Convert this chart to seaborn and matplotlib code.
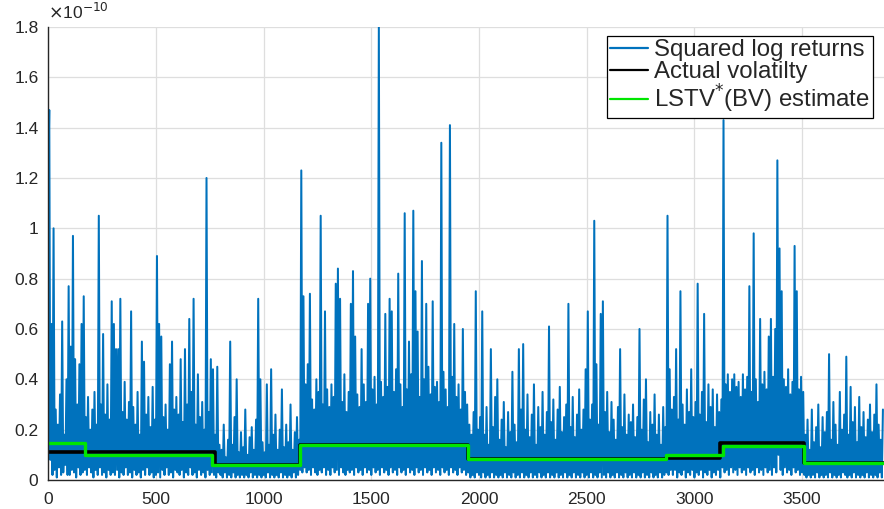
import numpy as np
import pandas as pd
import matplotlib
matplotlib.use("Agg")
import matplotlib.pyplot as plt
import seaborn as sns

# Squared log returns, in units of 1e-12, sampled every 5 observations (x = 0, 5, 10, ...)
sq_returns_e12 = [
    120, 147, 8, 62, 2, 100, 4, 28, 1, 22, 5, 34, 2, 63, 3, 18, 6, 40, 2, 77,
    2, 53, 4, 97, 3, 48, 1, 30, 5, 46, 2, 62, 3, 73, 4, 25, 2, 33, 5, 20,
    3, 28, 1, 35, 4, 22, 2, 105, 5, 30, 2, 58, 3, 26, 1, 38, 4, 24, 2, 71,
    3, 62, 2, 52, 4, 52, 1, 72, 3, 27, 2, 39, 5, 24, 2, 31, 3, 67, 1, 29,
    4, 22, 2, 35, 3, 18, 1, 55, 4, 47, 2, 26, 5, 33, 2, 21, 3, 37, 1, 24,
    2, 89, 3, 62, 1, 57, 4, 25, 2, 30, 5, 20, 2, 46, 3, 55, 1, 28, 4, 33,
    3, 26, 2, 48, 4, 23, 1, 52, 3, 30, 2, 64, 5, 35, 2, 72, 3, 22, 1, 42,
    4, 25, 2, 31, 3, 20, 1, 120, 4, 27, 2, 48, 3, 44, 2, 18, 1, 45, 3, 14,
    2, 12, 1, 22, 3, 9, 1, 16, 2, 55, 1, 14, 3, 25, 1, 40, 2, 11, 1, 19,
    2, 13, 1, 28, 2, 10, 1, 17, 3, 21, 1, 12, 2, 24, 1, 72, 2, 40, 1, 15,
    2, 11, 1, 38, 3, 14, 1, 44, 2, 18, 1, 26, 2, 12, 1, 20, 3, 36, 1, 13,
    2, 22, 1, 15, 2, 30, 1, 12, 3, 19, 1, 25, 2, 16, 4, 123, 3, 73, 5, 38,
    3, 46, 4, 74, 2, 32, 5, 28, 3, 40, 2, 35, 4, 105, 3, 30, 5, 67, 2, 36,
    4, 29, 2, 38, 5, 33, 3, 78, 4, 84, 2, 72, 5, 31, 3, 42, 2, 27, 4, 35,
    3, 70, 4, 83, 2, 57, 5, 34, 3, 29, 4, 52, 2, 38, 5, 31, 3, 70, 4, 80,
    2, 36, 5, 41, 3, 30, 4, 180, 2, 39, 5, 33, 3, 66, 4, 37, 2, 72, 5, 67,
    3, 35, 4, 44, 2, 82, 5, 38, 3, 29, 4, 106, 2, 36, 5, 55, 3, 42, 4, 107,
    2, 75, 5, 59, 3, 33, 4, 87, 2, 40, 5, 70, 3, 45, 4, 34, 2, 71, 5, 37,
    3, 39, 4, 31, 2, 134, 5, 43, 3, 36, 4, 29, 2, 141, 5, 41, 3, 62, 4, 33,
    2, 38, 5, 28, 3, 60, 4, 35, 2, 30, 3, 22, 1, 18, 2, 27, 1, 75, 3, 20,
    2, 25, 1, 67, 3, 18, 1, 29, 2, 14, 1, 52, 3, 21, 1, 33, 2, 40, 1, 16,
    2, 24, 1, 31, 3, 13, 1, 27, 2, 19, 1, 43, 3, 22, 1, 15, 2, 52, 1, 28,
    3, 54, 1, 20, 2, 34, 1, 17, 3, 26, 1, 38, 2, 14, 1, 29, 3, 21, 1, 35,
    2, 18, 1, 27, 3, 61, 1, 23, 2, 32, 1, 16, 3, 28, 1, 37, 2, 19, 1, 25,
    3, 30, 1, 70, 2, 21, 1, 33, 3, 17, 1, 26, 2, 36, 1, 20, 3, 28, 1, 44,
    2, 67, 1, 24, 3, 30, 1, 103, 2, 46, 1, 22, 3, 66, 1, 71, 2, 27, 1, 35,
    3, 19, 1, 31, 2, 24, 1, 16, 3, 29, 1, 52, 2, 21, 1, 34, 3, 18, 1, 26,
    2, 23, 1, 30, 3, 17, 1, 25, 2, 60, 1, 20, 3, 32, 1, 40, 2, 15, 1, 27,
    3, 22, 1, 34, 2, 18, 1, 26, 3, 14, 1, 29, 2, 21, 3, 105, 2, 44, 4, 28,
    2, 33, 4, 52, 1, 24, 3, 75, 2, 30, 4, 22, 1, 36, 3, 27, 2, 44, 4, 25,
    1, 31, 3, 78, 2, 26, 4, 35, 1, 66, 3, 23, 2, 38, 4, 29, 1, 36, 3, 21,
    2, 34, 4, 27, 1, 32, 5, 143, 3, 38, 4, 42, 2, 35, 5, 40, 3, 42, 4, 37,
    2, 39, 5, 33, 3, 42, 4, 36, 2, 41, 5, 77, 3, 35, 4, 98, 2, 40, 5, 31,
    3, 64, 4, 38, 2, 43, 5, 36, 3, 57, 4, 64, 2, 41, 5, 60, 3, 127, 10, 92,
    4, 75, 2, 40, 5, 37, 3, 44, 4, 34, 2, 39, 5, 93, 3, 75, 4, 36, 2, 41,
    3, 35, 2, 18, 1, 24, 2, 12, 1, 28, 2, 15, 1, 21, 3, 30, 1, 13, 2, 25,
    1, 19, 2, 27, 1, 50, 3, 16, 1, 31, 2, 22, 1, 14, 2, 35, 1, 20, 3, 26,
    2, 49, 1, 18, 2, 37, 1, 23, 3, 29, 1, 15, 2, 33, 1, 21, 2, 27, 1, 17,
    3, 24, 1, 30, 2, 19, 1, 26, 2, 38, 1, 22, 3, 16, 1, 28,
]
obs_step = 5

# Step functions (units of 1e-10): change points and levels
actual_edges = [0, 775, 1170, 1950, 2870, 3120, 3510, 3880]
actual_levels = [0.113, 0.060, 0.139, 0.083, 0.088, 0.148, 0.067]
lstv_edges = [0, 171, 760, 1170, 1950, 2868, 3131, 3510, 3880]
lstv_levels = [0.146, 0.100, 0.058, 0.139, 0.083, 0.100, 0.135, 0.066]

series_labels = ["Squared log returns", "Actual volatilty", "LSTV$^{*}$(BV) estimate"]
x_ticks = [0, 500, 1000, 1500, 2000, 2500, 3000, 3500]
y_ticks = [0, 0.2, 0.4, 0.6, 0.8, 1.0, 1.2, 1.4, 1.6, 1.8]

# ---- build frames ----
ret = np.array(sq_returns_e12, dtype=float) / 100.0
df_ret = pd.DataFrame({"t": np.arange(len(ret)) * obs_step, "v": ret})
df_act = pd.DataFrame({"t": actual_edges, "v": actual_levels + [actual_levels[-1]]})
df_lstv = pd.DataFrame({"t": lstv_edges, "v": lstv_levels + [lstv_levels[-1]]})

sns.set_style("white")
plt.rcParams["font.family"] = ["Liberation Sans", "DejaVu Sans"]

fig = plt.figure(figsize=(8.84, 5.09), dpi=100)
ax = fig.add_axes([0.0545, 0.057, 0.9455, 0.890])

sns.lineplot(data=df_ret, x="t", y="v", ax=ax, color="#0072BD", lw=1.45,
             estimator=None, sort=False, label=series_labels[0])
sns.lineplot(data=df_act, x="t", y="v", ax=ax, color="black", lw=2.6,
             estimator=None, sort=False, drawstyle="steps-post", label=series_labels[1])
sns.lineplot(data=df_lstv, x="t", y="v", ax=ax, color="#00E600", lw=2.4,
             estimator=None, sort=False, drawstyle="steps-post", label=series_labels[2])

ax.set_xlim(0, 3880)
ax.set_ylim(0, 1.8)
ax.set_xticks(x_ticks)
ax.set_yticks(y_ticks)
ax.set_xticklabels([str(t) for t in x_ticks])
ax.set_yticklabels(["%g" % t for t in y_ticks])
ax.set_xlabel("")
ax.set_ylabel("")

ax.grid(True, color="#dedede", lw=0.9)
ax.set_axisbelow(True)
for s in ["top", "right"]:
    ax.spines[s].set_visible(False)
for s in ["left", "bottom"]:
    ax.spines[s].set_color("#262626")
    ax.spines[s].set_linewidth(1.0)
ax.tick_params(axis="both", direction="in", length=4, color="#262626",
               labelsize=12.5, labelcolor="#262626")
ax.tick_params(axis="x", pad=9)
ax.tick_params(axis="y", pad=7)

ax.text(0.0, 1.012, r"$\times$10$^{-10}$", transform=ax.transAxes,
        fontsize=12.5, color="#262626", ha="left", va="bottom")

leg = ax.legend(loc="upper left", bbox_to_anchor=(0.6686, 0.980), borderaxespad=0,
                frameon=True, fancybox=False, fontsize=17.3, handlelength=1.6,
                handletextpad=0.25, labelspacing=0.0, borderpad=0.12)
leg.get_frame().set_edgecolor("black")
leg.get_frame().set_linewidth(0.9)
leg.get_frame().set_alpha(1)
for h in leg.get_lines():
    h.set_linewidth(1.6)

fig.savefig("out.png", dpi=100)
